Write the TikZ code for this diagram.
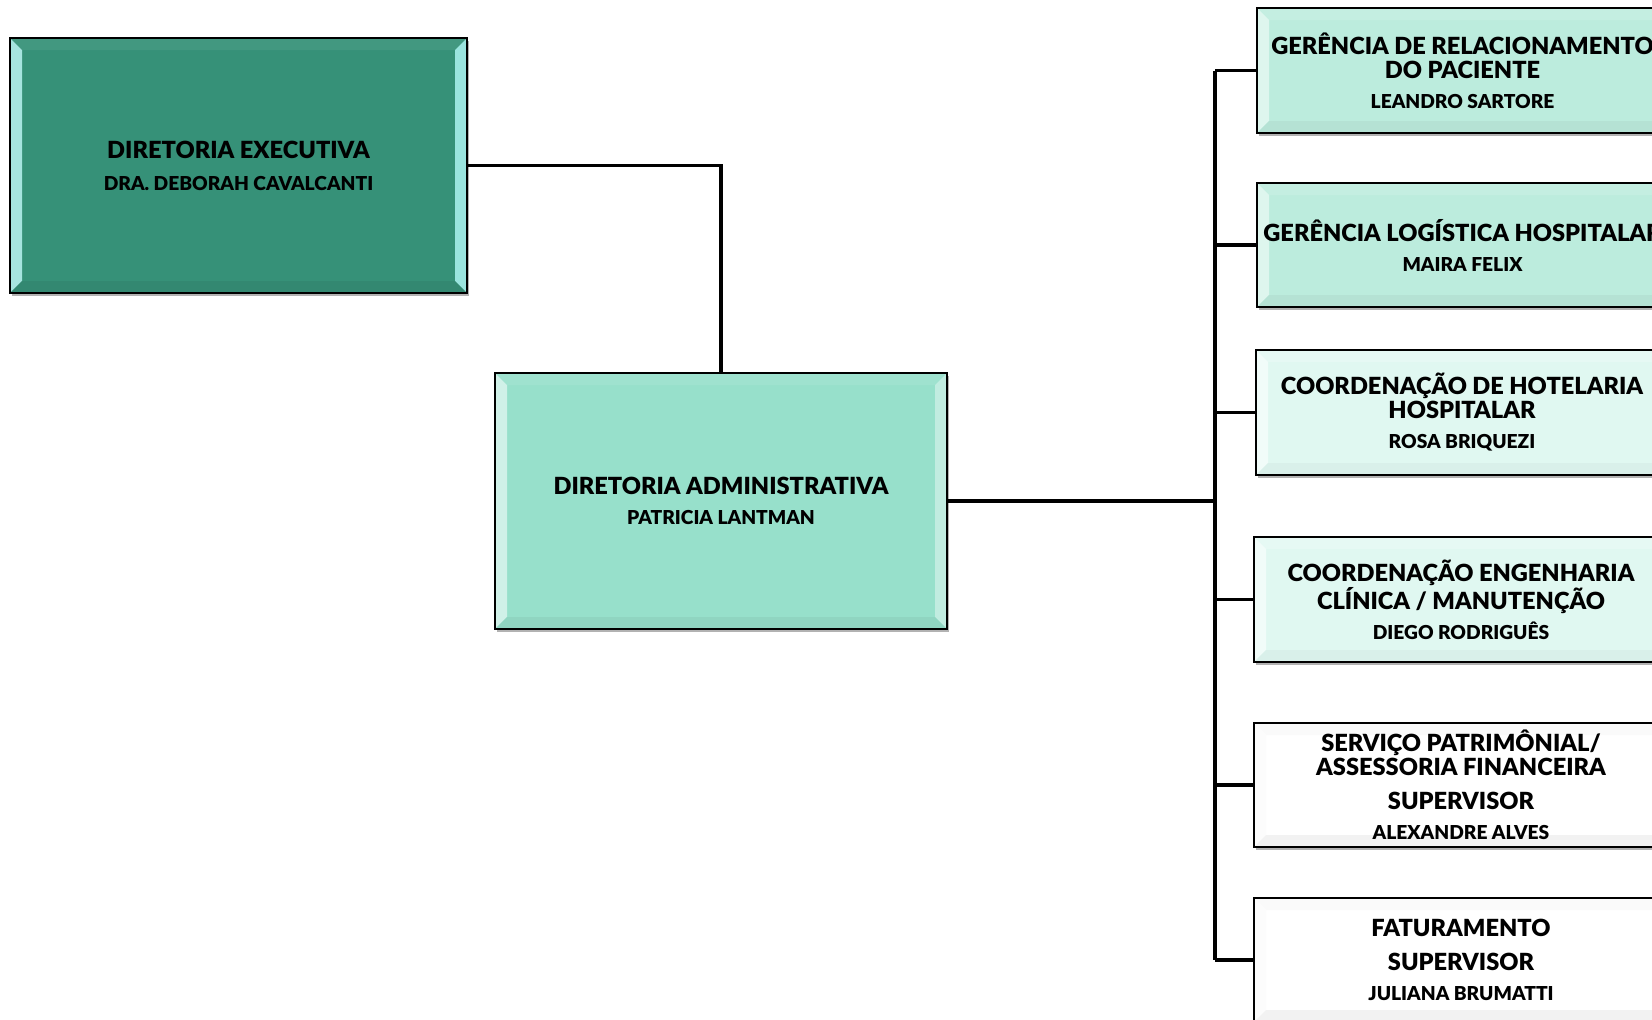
\documentclass[tikz,border=0pt]{standalone}
\usepackage{fontspec}
\setmainfont{Lato}[BoldFont={Lato Black}]
\usetikzlibrary{shadows}

\definecolor{exfill}{RGB}{54,145,120}
\definecolor{adfill}{RGB}{151,224,203}
\definecolor{gefill}{RGB}{188,236,221}
\definecolor{cofill}{RGB}{224,248,241}

\newcommand{\boxtitle}{\fontsize{11.8}{13.3}\selectfont}
\newcommand{\boxname}{\fontsize{9.6}{13.3}\selectfont}

\tikzset{
  orgbox/.style={draw=black, line width=1.4pt, inner sep=0pt, align=center,
    font=\bfseries,
    drop shadow={shadow xshift=1pt, shadow yshift=-1.5pt, opacity=0.3, fill=black}},
  bevel/.style n args={5}{fill=#1, path picture={
    \path (path picture bounding box.north west) coordinate (bnw)
          (path picture bounding box.north east) coordinate (bne)
          (path picture bounding box.south west) coordinate (bsw)
          (path picture bounding box.south east) coordinate (bse);
    \fill[#2] (bnw) -- (bne) -- ([shift={(-6pt,-6pt)}]bne) -- ([shift={(6pt,-6pt)}]bnw) -- cycle;
    \fill[#3] (bnw) -- (bsw) -- ([shift={(6pt,6pt)}]bsw) -- ([shift={(6pt,-6pt)}]bnw) -- cycle;
    \fill[#4] (bne) -- (bse) -- ([shift={(-6pt,6pt)}]bse) -- ([shift={(-6pt,-6pt)}]bne) -- cycle;
    \fill[#5] (bsw) -- (bse) -- ([shift={(-6pt,6pt)}]bse) -- ([shift={(6pt,6pt)}]bsw) -- cycle;
  }},
  exbox/.style={orgbox, bevel={exfill}{exfill!94!white}{exfill!60!cyan!40!white}{exfill!55!cyan!45!white}{exfill!94!black}},
  adbox/.style={orgbox, bevel={adfill}{adfill!92!white}{adfill!45!white}{adfill!60!white}{adfill!95!black}},
  gebox/.style={orgbox, bevel={gefill}{gefill!88!white}{gefill!50!white}{gefill!60!white}{gefill!96!black}},
  cobox/.style={orgbox, bevel={cofill}{cofill!80!white}{cofill!45!white}{cofill!60!white}{cofill!97!black}},
  wtbox/.style={orgbox, bevel={white}{black!2}{black!1}{black!5}{black!5}},
  link/.style={draw=black, line width=1.6pt},
}

\begin{document}
\begin{tikzpicture}[x=0.5pt, y=-0.5pt]
    \useasboundingbox (0,0) rectangle (1652,1019);
    \clip (0,0) rectangle (1652,1019);

    % direction
    \node[exbox, minimum width=228.5pt, minimum height=127.5pt] (exec) at (238.5,165.5)
      {\boxtitle DIRETORIA EXECUTIVA\\[4pt]\boxname DRA. DEBORAH CAVALCANTI};
    \node[adbox, minimum width=226pt, minimum height=128pt] (admin) at (721,501)
      {\boxtitle DIRETORIA ADMINISTRATIVA\\[3pt]\boxname PATRICIA LANTMAN};

    % areas
    \node[gebox, minimum width=205.5pt, minimum height=62.5pt] (relac) at (1462.5,70.5)
      {\boxtitle GERÊNCIA DE RELACIONAMENTO\\\boxtitle DO PACIENTE\\[3pt]\boxname LEANDRO SARTORE};
    \node[gebox, minimum width=205.5pt, minimum height=62pt] (logis) at (1462.5,245)
      {\boxtitle GERÊNCIA LOGÍSTICA HOSPITALAR\\[3pt]\boxname MAIRA FELIX};
    \node[cobox, minimum width=206pt, minimum height=62.5pt] (hotel) at (1462,412.5)
      {\boxtitle COORDENAÇÃO DE HOTELARIA\\\boxtitle HOSPITALAR\\[3pt]\boxname ROSA BRIQUEZI};
    \node[cobox, minimum width=207pt, minimum height=62.5pt] (engen) at (1461,599.5)
      {\boxtitle COORDENAÇÃO ENGENHARIA\\\boxtitle CLÍNICA / MANUTENÇÃO\\[3pt]\boxname DIEGO RODRIGUÊS};
    \node[wtbox, minimum width=207pt, minimum height=62pt] (patri) at (1461,785)
      {\boxtitle SERVIÇO PATRIMÔNIAL/\\\boxtitle ASSESSORIA FINANCEIRA\\[5pt]\boxtitle SUPERVISOR\\[3pt]\boxname ALEXANDRE ALVES};
    \node[wtbox, minimum width=207pt, minimum height=62pt] (fatur) at (1461,960)
      {\boxtitle FATURAMENTO\\[5pt]\boxtitle SUPERVISOR\\[3pt]\boxname JULIANA BRUMATTI};

    % connectors
    \coordinate (bus) at (1215,0);
    \draw[link] (exec.east) -| (admin.north);
    \draw[link] (admin.east) -- (admin.east -| bus);
    \draw[link] (relac.west -| bus) -- (fatur.west -| bus);
    \foreach \area in {relac,logis,hotel,engen,patri,fatur}
      \draw[link] (\area.west -| bus) -- (\area.west);
\end{tikzpicture}
\end{document}
